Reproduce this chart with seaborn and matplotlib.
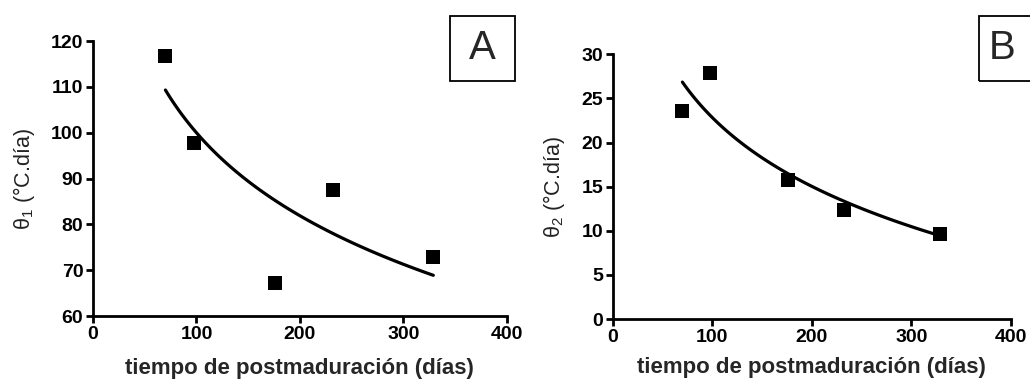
import numpy as np
import matplotlib
matplotlib.use("Agg")
import matplotlib.pyplot as plt
from matplotlib.patches import Rectangle
import seaborn as sns

# datos
dias = [70, 98, 176, 232, 329]
theta1 = [116.7, 97.7, 67.2, 87.5, 72.9]
theta2 = [23.6, 27.9, 15.7, 12.4, 9.6]
x_ticks = [0, 100, 200, 300, 400]
y1_ticks = [60, 70, 80, 90, 100, 110, 120]
y2_ticks = [0, 5, 10, 15, 20, 25, 30]
xlabel = "tiempo de postmaduración (días)"

sns.set_style("ticks")
plt.rcParams['font.family'] = ['Liberation Sans', 'DejaVu Sans']
plt.rcParams['mathtext.default'] = 'regular'

fig = plt.figure(figsize=(10.3, 3.81), dpi=100)
axA = fig.add_axes([0.0903, 0.1706, 0.4017, 0.7214])
axB = fig.add_axes([0.5949, 0.1627, 0.3864, 0.6948])


def panel(ax, y, yticks, ylab, xpad):
    sns.regplot(x=np.array(dias, dtype=float), y=np.array(y), ax=ax, logx=True, ci=None,
                marker='s', color='black',
                scatter_kws=dict(s=100, linewidths=0, alpha=1),
                line_kws=dict(lw=2.3, color='black'))
    ax.set_xlim(x_ticks[0], x_ticks[-1])
    ax.set_ylim(yticks[0], yticks[-1])
    ax.set_xticks(x_ticks)
    ax.set_yticks(yticks)
    sns.despine(ax=ax)
    for s in ['left', 'bottom']:
        ax.spines[s].set_linewidth(2.0)
        ax.spines[s].set_color('black')
    ax.tick_params(width=2.0, length=5, pad=2, labelsize=14, colors='black')
    for lab in ax.get_xticklabels() + ax.get_yticklabels():
        lab.set_fontweight('bold')
    ax.set_xlabel(xlabel, fontsize=16, fontweight='bold', labelpad=xpad)
    ax.set_ylabel(ylab, fontsize=15.5, color='#222222', labelpad=10)
    ax.set_facecolor('white')


panel(axA, theta1, y1_ticks, r"$\theta_1$ (°C.día)", 11)
panel(axB, theta2, y2_ticks, r"$\theta_2$ (°C.día)", 8)

# cajas con letra del panel
for x0, w, tx, letra in [(0.437, 0.0631, 0.4685, "A"), (0.9505, 0.07, 0.973, "B")]:
    fig.add_artist(Rectangle((x0, 0.788), w, 0.1706, transform=fig.transFigure,
                             fill=False, edgecolor='black', lw=1.3))
    fig.text(tx, 0.874, letra, fontsize=29, ha='center', va='center')

fig.savefig("out.png", dpi=100, facecolor='white')
